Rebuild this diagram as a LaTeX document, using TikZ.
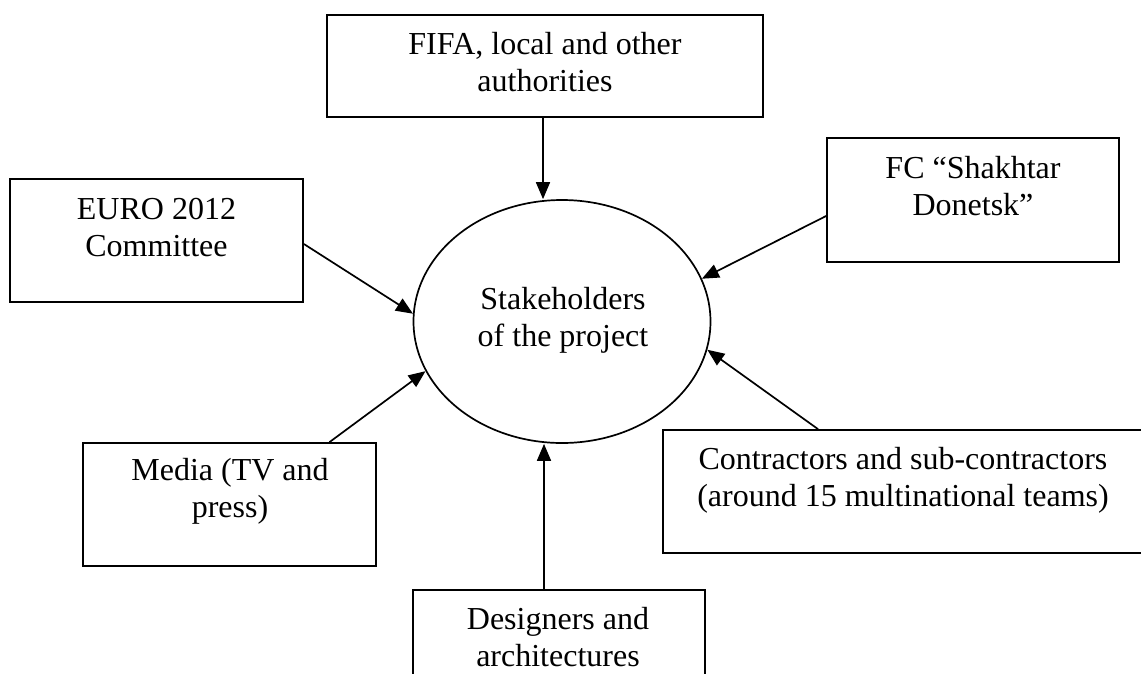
\documentclass[tikz,border=0pt]{standalone}
\usepackage{fontspec}
\setmainfont{Liberation Serif}
\usetikzlibrary{arrows.meta,shapes.geometric}
\begin{document}
\begin{tikzpicture}[x=1pt,y=-1pt,
  box/.style={draw, line width=1.8pt, inner sep=0pt, rectangle},
  txt/.style={inner sep=0pt, align=center, font=\fontsize{32}{37}\selectfont},
  arr/.style={line width=1.7pt, -{Triangle[length=17pt,width=14pt]}}]
\clip (0,0) rectangle (1141,673);
\fill[white] (0,0) rectangle (1141,673);
% boxes
\node[box, minimum width=436pt, minimum height=102pt] (fifa) at (545,66) {};
\node[box, minimum width=293pt, minimum height=123pt] (euro) at (156.5,240.5) {};
\node[box, minimum width=292pt, minimum height=124pt] (fc) at (973,200) {};
\node[box, minimum width=293pt, minimum height=123pt] (media) at (229.5,504.5) {};
\node[box, minimum width=480pt, minimum height=123pt] (contr) at (903,491.5) {};
\node[box, minimum width=292pt, minimum height=123pt] (des) at (559,651.5) {};
\node[draw, ellipse, line width=1.7pt, minimum width=297pt, minimum height=243pt, inner sep=0pt] (stake) at (562,321.5) {};
% texts
\node[txt] (fifaT) at (545,62.5) {FIFA, local and other\\authorities};
\node[txt] (euroT) at (156.5,228) {EURO 2012\\Committee};
\node[txt] (fcT) at (973,186) {FC “Shakhtar\\Donetsk”};
\node[txt] (stakeT) at (563,320.5) {Stakeholders\\of the project};
\node[txt] (mediaT) at (230,491.5) {Media (TV and\\press)};
\node[txt] (contrT) at (903,480) {Contractors and sub-contractors\\(around 15 multinational teams)};
\node[txt] (desT) at (558,637.5) {Designers and\\architectures};
% arrows
\draw[arr] ([xshift=-2pt]fifa.south) -- ([xshift=-2pt]fifa.south |- stake.north);
\draw[arr] ([yshift=-3.5pt]euro.east) -- (stake.177);
\draw[arr] ([yshift=-16pt]fc.west) -- (stake.17);
\draw[arr] ([xshift=100pt]media.north) -- (stake.200);
\draw[arr] ([xshift=-85pt]contr.north) -- (stake.-11);
\draw[arr] ([xshift=-15pt]des.north) -- ([xshift=-15pt]des.north |- stake.south);
\end{tikzpicture}
\end{document}
